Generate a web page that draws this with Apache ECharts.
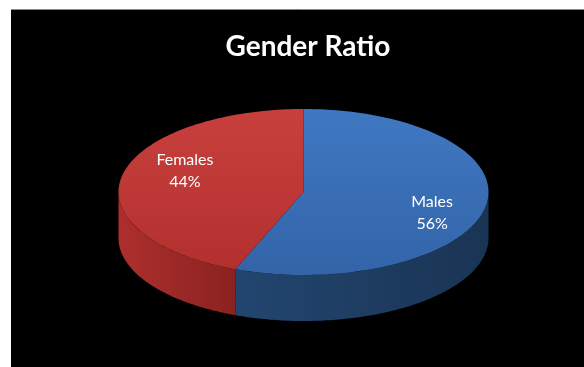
<!DOCTYPE html>
<html>
<head>
<meta charset="utf-8">
<script src="https://cdn.jsdelivr.net/npm/echarts@6/dist/echarts.min.js"></script>
<style>
html,body{margin:0;padding:0;background:#fff;}
#chart{width:584px;height:367px;}
</style>
</head>
<body>
<div id="chart"></div>
<script>
// ---- data ----
const categories = ['Males', 'Females'];
const values = [56, 44];
const titleText = 'Gender Ratio';

// ---- styles ----
const topColors = [
  ['#3f78c2', '#3364a8'],
  ['#c8403e', '#b3302e']
];
const sideColors = [
  ['#22466f', '#1a3454'],
  ['#ad2f2d', '#8a2220']
];

const chart = echarts.init(document.getElementById('chart'), null, {renderer: 'canvas'});

const geom = {cx: 303.5, cy: 192, rx: 185, ry: 83, depth: 46};
const total = values.reduce((a, b) => a + b, 0);

function ellipsePt(phi, dy) {
  return [geom.cx + geom.rx * Math.cos(phi), geom.cy + geom.ry * Math.sin(phi) + (dy || 0)];
}

function renderItem(params, api) {
  const idx = params.dataIndex;
  let before = 0;
  for (let i = 0; i < idx; i++) before += values[i];
  const v = api.value(1);
  const a0 = -Math.PI / 2 + before / total * Math.PI * 2;
  const a1 = a0 + v / total * Math.PI * 2;
  const children = [];
  const N = 120;

  // side face (front-visible part: phi in [0, PI])
  const s0 = Math.max(a0, 0), s1 = Math.min(a1, Math.PI);
  if (s1 > s0) {
    const pts = [];
    for (let k = 0; k <= N; k++) pts.push(ellipsePt(s0 + (s1 - s0) * k / N, 0));
    for (let k = N; k >= 0; k--) pts.push(ellipsePt(s0 + (s1 - s0) * k / N, geom.depth));
    children.push({
      type: 'polygon',
      shape: {points: pts},
      style: {
        fill: new echarts.graphic.LinearGradient(0, 0, 1, 0, [
          {offset: 0, color: sideColors[idx][0]},
          {offset: 1, color: sideColors[idx][1]}
        ])
      }
    });
  }
  // top face
  const tp = [[geom.cx, geom.cy]];
  for (let k = 0; k <= N; k++) tp.push(ellipsePt(a0 + (a1 - a0) * k / N, 0));
  children.push({
    type: 'polygon',
    shape: {points: tp},
    style: {
      fill: new echarts.graphic.LinearGradient(0, 0, 0, 1, [
        {offset: 0, color: topColors[idx][0]},
        {offset: 1, color: topColors[idx][1]}
      ])
    }
  });
  // label
  const mid = (a0 + a1) / 2;
  const lx = geom.cx + 5 + geom.rx * 0.68 * Math.cos(mid);
  const ly = geom.cy + geom.ry * 1.35 * Math.sin(mid);
  children.push({
    type: 'text',
    x: lx, y: ly,
    style: {
      text: categories[idx] + '\n' + Math.round(v / total * 100) + '%',
      fill: '#ffffff',
      font: '16px Lato',
      lineHeight: 22,
      align: 'center',
      verticalAlign: 'middle'
    }
  });
  return {type: 'group', children: children};
}

const option = {
  backgroundColor: '#ffffff',
  animation: false,
  title: {
    text: titleText,
    left: 303,
    top: 28,
    textAlign: 'center',
    textStyle: {color: '#ffffff', fontFamily: 'Lato', fontWeight: 'bold', fontSize: 28}
  },
  graphic: [
    {type: 'rect', z: -10, shape: {x: 11, y: 9, width: 573, height: 358}, style: {fill: '#000000'}},
    {type: 'line', z: -9, shape: {x1: 11, y1: 9.5, x2: 584, y2: 9.5}, style: {stroke: '#8a8a8a', lineWidth: 1}}
  ],
  series: [{
    type: 'custom',
    coordinateSystem: 'none',
    renderItem: renderItem,
    data: categories.map((c, i) => [i, values[i]])
  }]
};
chart.setOption(option);
</script>
</body>
</html>
